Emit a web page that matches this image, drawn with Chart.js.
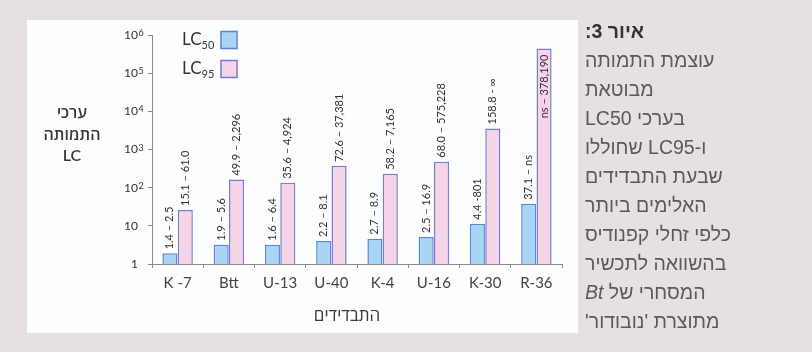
<!DOCTYPE html>
<html>
<head>
<meta charset="utf-8">
<script src="https://cdn.jsdelivr.net/npm/chart.js@4"></script>
<style>
    html, body {
        margin: 0;
        padding: 0;
        width: 812px;
        height: 352px;
        overflow: hidden;
        background: #e6dfe3;
    }

    #panel {
        position: absolute;
        left: 27px;
        top: 20px;
        width: 551px;
        height: 313px;
        background: #fbfdfe;
    }

    #chartBox {
        position: absolute;
        left: 0;
        top: 0;
        width: 812px;
        height: 352px;
    }

    #caption {
        position: absolute;
        left: 585px;
        top: 17px;
        width: 225px;
        direction: rtl;
        text-align: left;
        font-family: "Liberation Sans", Arial, sans-serif;
        font-size: 19.5px;
        line-height: 29px;
        color: #5a5a5a;
        white-space: nowrap;
    }

    #caption b {
        color: #333;
    }
</style>
</head>
<body>
<div id="panel"></div>
<div id="chartBox"><canvas id="lcChart" width="812" height="352"></canvas></div>
<div id="caption">
    <b>איור 3:</b><br>
    עוצמת התמותה<br>
    מבוטאת<br>
    בערכי LC50<br>
    ו-LC95 שחוללו<br>
    שבעת התבדידים<br>
    האלימים ביותר<br>
    כלפי זחלי קפנודיס<br>
    בהשוואה לתכשיר<br>
    המסחרי של <i>Bt</i><br>
    מתוצרת 'נובודור'
</div>

<script>
// data
const isolates = ["K -7", "Btt", "U-13", "U-40", "K-4", "U-16", "K-30", "R-36"];
const lc50 = [1.9, 3.2, 3.2, 4.0, 4.6, 5.1, 11.4, 38];
const lc95 = [26, 163, 134, 373, 230, 478, 3550, 440000];
const lc50Range = ["1.4 – 2.5", "1.9 – 5.6", "1.6 – 6.4", "2.2 – 8.1", "2.7 – 8.9", "2.5 – 16.9", "4.4 -801", "37.1 – ns"];
const lc95Range = ["15.1 – 61.0", "49.9 – 2,296", "35.6 – 4,924", "72.6 – 37,381", "58.2 – 7,165", "68.0 – 575,228", "158.8 - ∞", "ns – 378,190"];
const yTicks = [1, 10, 100, 1000, 10000, 100000, 1000000];
const yTickBase = ["1", "10", "10", "10", "10", "10", "10"];
const yTickExp = ["", "", "2", "3", "4", "5", "6"];

const yTitle = ["ערכי", "התמותה", "LC"];
const xTitle = "התבדידים";

const fontMain = "Lato, 'Open Sans', 'DejaVu Sans', sans-serif";

// range labels on top of the bars, exponents, titles and the legend
const extrasPlugin = {
    id: "extras",
    afterDatasetsDraw(chart) {
        const ctx = chart.ctx;
        const area = chart.chartArea;
        const ranges = [lc50Range, lc95Range];

        ctx.save();
        ctx.fillStyle = "#333";
        ctx.font = "11px " + fontMain;
        ctx.textBaseline = "middle";

        chart.data.datasets.forEach((ds, di) => {
            const meta = chart.getDatasetMeta(di);
            meta.data.forEach((bar, i) => {
                const txt = ranges[di][i];
                const w = ctx.measureText(txt).width;
                ctx.save();
                ctx.translate(bar.x, bar.y);
                ctx.rotate(-Math.PI / 2);
                if (bar.y - 4 - w < area.top) {
                    ctx.textAlign = "right";
                    ctx.fillText(txt, -6, 0);
                } else {
                    ctx.textAlign = "left";
                    ctx.fillText(txt, 4, 0);
                }
                ctx.restore();
            });
        });

        // exponents of the y tick labels
        const ys = chart.scales.y;
        const labelRight = ys.right - 4 - ys.options.ticks.padding;
        ctx.font = "9px " + fontMain;
        ctx.textAlign = "left";
        ctx.textBaseline = "alphabetic";
        yTicks.forEach((v, i) => {
            if (!yTickExp[i]) return;
            ctx.fillText(yTickExp[i], labelRight + 0.5, ys.getPixelForValue(v) + 1);
        });

        // legend, drawn inside the plot
        ctx.textBaseline = "middle";
        chart.data.datasets.forEach((ds, di) => {
            const yc = area.top + 5 + di * 29;
            const main = ds.label.replace(/[0-9]+/, "");
            const sub = ds.label.replace(/[^0-9]/g, "");
            ctx.fillStyle = "#333";
            ctx.textAlign = "left";
            ctx.font = "17px " + fontMain;
            const x0 = area.left + 30;
            ctx.fillText(main, x0, yc);
            const mw = ctx.measureText(main).width;
            ctx.font = "11px " + fontMain;
            ctx.fillText(sub, x0 + mw, yc + 5);
            ctx.fillStyle = ds.backgroundColor;
            ctx.strokeStyle = ds.borderColor;
            ctx.lineWidth = 1.5;
            ctx.fillRect(area.left + 69, yc - 8.5, 16, 17);
            ctx.strokeRect(area.left + 69, yc - 8.5, 16, 17);
        });

        // axis titles
        ctx.fillStyle = "#3a3a3a";
        ctx.textAlign = "center";
        ctx.font = "600 16px " + fontMain;
        yTitle.forEach((line, i) => {
            ctx.fillText(line, 72, 113 + i * 21.5);
        });
        ctx.font = "17px " + fontMain;
        ctx.fillText(xTitle, 347, 316);

        ctx.restore();
    }
};

const ctx = document.getElementById("lcChart").getContext("2d");

new Chart(ctx, {
    type: "bar",

    data: {
        labels: isolates,

        datasets: [
            {
                label: "LC50",
                data: lc50,
                backgroundColor: "#a9d4f3",
                borderColor: "#5a84d4",
                borderWidth: 1.5,
                borderSkipped: "bottom"
            },
            {
                label: "LC95",
                data: lc95,
                backgroundColor: "#f5d5e5",
                borderColor: "#7a78d8",
                borderWidth: 1.5,
                borderSkipped: "bottom"
            }
        ]
    },

    options: {
        responsive: false,
        animation: false,
        categoryPercentage: 0.6,
        barPercentage: 0.98,

        layout: {
            padding: { left: 0, right: 250, top: 35, bottom: 0 }
        },

        plugins: {
            legend: { display: false },
            tooltip: { enabled: false }
        },

        scales: {
            x: {
                afterFit(scale) {
                    scale.height = 88;
                },
                border: { color: "#8a8a8a", width: 1 },
                grid: {
                    drawOnChartArea: false,
                    color: "#8a8a8a",
                    tickLength: 4,
                    offset: true
                },
                ticks: {
                    color: "#444",
                    padding: 6,
                    font: { family: fontMain, size: 15 }
                }
            },

            y: {
                type: "logarithmic",
                min: 1,
                max: 1000000,
                afterFit(scale) {
                    scale.width = 152;
                },
                afterBuildTicks(scale) {
                    scale.ticks = yTicks.map(v => ({ value: v }));
                },
                border: { color: "#8a8a8a", width: 1 },
                grid: {
                    drawOnChartArea: false,
                    color: "#8a8a8a",
                    tickLength: 4
                },
                ticks: {
                    color: "#333",
                    padding: 10,
                    font: { family: fontMain, size: 12 },
                    callback(value) {
                        const i = yTicks.indexOf(value);
                        return i >= 0 ? yTickBase[i] : "";
                    }
                }
            }
        }
    },

    plugins: [extrasPlugin]
});
</script>
</body>
</html>
